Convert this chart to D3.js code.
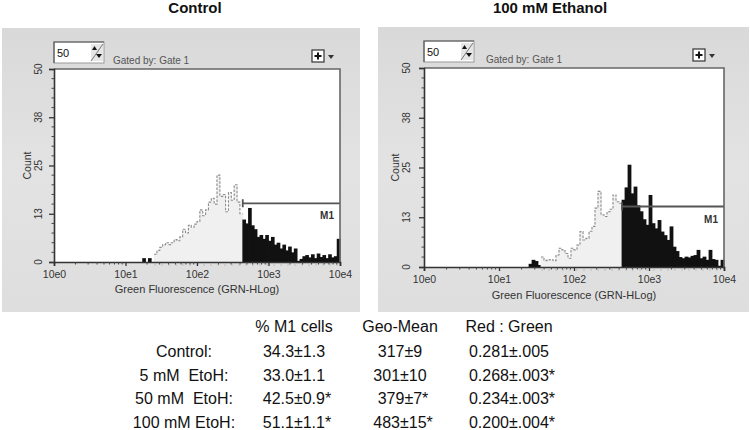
<!DOCTYPE html>
<html><head><meta charset="utf-8">
<script src="https://cdn.jsdelivr.net/npm/d3@7"></script>
<style>body{margin:0;background:#fff}text{font-family:Arial,"Liberation Sans",sans-serif}</style>
</head><body>
<svg id="c" width="750" height="430"></svg>
<script>
// ---------- data ----------
const panelTitles = ["Control", "100 mM Ethanol"];
const binStartLog = 1.20;          // log10 of first bin edge
const binWidthLog = 0.04;          // bin width in decades
const controlCounts = [0,1,0,1,0,
  2.0,3.0,3.8,4.5,5.0,4.5,5.0,5.8,5.5,6.5,8.5,7.5,9.5,9.0,9.8,10.5,13.5,12.0,13.5,15.5,16.5,15.0,22.5,17.0,17.5,13.0,18.0,16.0,20.0,15.5,12.5,
  11.0,10.0,14.0,9.5,8.5,6.5,7.0,6.0,7.0,5.5,6.5,4.5,5.0,3.5,4.5,3.0,4.0,2.5,3.5,0.3,0.8,1.5,1.8,1.2,2.0,1.0,2.2,1.3,1.8,1.0,2.0,1.2,1.5,6.0];
const ethanolCounts = [0,0,0,0,0,
  0.8,1.8,1.5,0.5,2.5,1.6,1.8,1.9,1.6,3.0,4.7,4.3,3.4,2.2,4.7,4.3,5.5,8.9,6.8,7.2,9.0,10.2,14.8,19.0,13.1,12.7,13.9,14.5,18.1,16.4,16.0,
  16.9,20.0,25.7,18.5,20.2,15.5,14.0,12.0,10.6,18.1,11.0,9.7,11.8,8.9,8.0,6.8,10.2,5.1,4.0,2.5,2.2,2.6,2.4,2.8,3.0,4.3,2.2,2.6,1.8,4.3,2.0,1.8,0.3,1.8];
const grayFromLog = [1.40, 1.56];   // start of light-grey (non-M1) part
const m1StartLog = [2.64, 2.64];    // M1 gate start
const m1Level = [15.2, 15.2];       // M1 gate bar height (count)
const xTickValues = [1, 10, 100, 1000, 10000];
const xTickLabels = ["10e0", "10e1", "10e2", "10e3", "10e4"];
const yTickValues = [0, 12.5, 25, 37.5, 50];
const yTickLabels = ["0", "13", "25", "38", "50"];
const xAxisTitle = "Green Fluorescence (GRN-HLog)";
const yAxisTitle = "Count";
const tableHeaders = ["% M1 cells", "Geo-Mean", "Red : Green"];
const rowLabels = ["Control:", "5 mM\u00a0\u00a0EtoH:", "50 mM\u00a0\u00a0EtoH:", "100 mM EtoH:"];
const m1Cells = ["34.3±1.3", "33.0±1.1", "42.5±0.9*", "51.1±1.1*"];
const geoMean = ["317±9", "301±10", "379±7*", "483±15*"];
const redGreen = ["0.281±.005", "0.268±.003*", "0.234±.003*", "0.200±.004*"];

// ---------- layout ----------
const svg = d3.select("#c");
const layouts = [
  {bg:[2,28,358,284], plot:[54,69,340,262], titleX:195, yLab:38, yTitle:27, xTitleY:293},
  {bg:[378,27,371,285], plot:[424,68,724,267], titleX:550, yLab:406, yTitle:395, xTitleY:299}
];
const countsAll = [controlCounts, ethanolCounts];

const defs = svg.append("defs");
const grad = defs.append("linearGradient").attr("id","bgg").attr("x1",0).attr("y1",0).attr("x2",0).attr("y2",1);
grad.append("stop").attr("offset","0%").attr("stop-color","#d9d9d9");
grad.append("stop").attr("offset","50%").attr("stop-color","#e3e3e3");
grad.append("stop").attr("offset","100%").attr("stop-color","#dedede");

layouts.forEach((L, p) => {
  const g = svg.append("g");
  const [px0, py0, px1, py1] = L.plot;
  const counts = countsAll[p];
  g.append("rect").attr("x",L.bg[0]).attr("y",L.bg[1]).attr("width",L.bg[2]).attr("height",L.bg[3]).attr("fill","url(#bgg)");
  svg.append("text").attr("x",L.titleX).attr("y",13).attr("text-anchor","middle")
    .attr("font-size",15).attr("font-weight","bold").attr("fill","#111").text(panelTitles[p]);

  const x = d3.scaleLog().domain([1, 10000]).range([px0, px1]);
  const y = d3.scaleLinear().domain([0, 50]).range([py1, py0]);

  g.append("rect").attr("x",px0).attr("y",py0).attr("width",px1-px0).attr("height",py1-py0).attr("fill","#fff");

  // header widgets
  const bx = px0, by = py0 - 27;
  g.append("rect").attr("x",bx).attr("y",by).attr("width",50).attr("height",21).attr("fill","#fff").attr("stroke","#999").attr("stroke-width",1);
  g.append("path").attr("d",`M${bx},${by+21}V${by}H${bx+50}`).attr("stroke","#555").attr("fill","none").attr("stroke-width",1.2);
  g.append("text").attr("x",bx+3).attr("y",by+15).attr("font-size",11).attr("fill","#111").text("50");
  g.append("rect").attr("x",bx+37).attr("y",by+2).attr("width",12).attr("height",17).attr("fill","#e6e6e6");
  g.append("path").attr("d",`M${bx+37},${by+19}L${bx+49},${by+2}`).attr("stroke","#777").attr("stroke-width",1);
  g.append("path").attr("d",`M${bx+38},${by+8}l2.5,-4l2.5,4z M${bx+42},${by+12}h6l-3,4z`).attr("fill","#111");
  g.append("text").attr("x",bx+(p?62:59)).attr("y",by+22).attr("font-size",10).attr("fill","#555").text("Gated by: Gate 1");
  const pbx = px1 - (p?31:28), pby = py0 - 19;
  g.append("rect").attr("x",pbx).attr("y",pby).attr("width",12).attr("height",12).attr("fill","#fff").attr("stroke","#333").attr("stroke-width",1.2);
  g.append("path").attr("d",`M${pbx+6},${pby+2.5}v7M${pbx+2.5},${pby+6}h7`).attr("stroke","#111").attr("stroke-width",2);
  g.append("path").attr("d",`M${pbx+16},${pby+5}h6l-3,4z`).attr("fill","#333");

  // histogram bins
  const bins = counts.map((c, i) => ({lo: binStartLog + i*binWidthLog, hi: binStartLog + (i+1)*binWidthLog, c}));
  const isGray = b => b.lo >= grayFromLog[p] - 1e-9 && b.lo < m1StartLog[p] - 1e-9;
  g.selectAll("rect.bin").data(bins.filter(b => b.c > 0)).join("rect").attr("class","bin")
    .attr("x", b => x(Math.pow(10, b.lo)) - 0.4)
    .attr("width", b => x(Math.pow(10, b.hi)) - x(Math.pow(10, b.lo)) + 0.8)
    .attr("y", b => y(b.c)).attr("height", b => y(0) - y(b.c))
    .attr("fill", b => isGray(b) ? "#f0f0f0" : "#111");
  // grey outline (dotted step)
  const grayBins = bins.filter(isGray);
  const pts = [];
  grayBins.forEach(b => { pts.push([x(Math.pow(10,b.lo)), y(b.c)]); pts.push([x(Math.pow(10,b.hi)), y(b.c)]); });
  g.append("path").attr("d", d3.line()(pts)).attr("fill","none").attr("stroke","#8c8c8c").attr("stroke-width",1.1).attr("stroke-dasharray","2.5,1.5");
  // dotted row under grey part
  g.append("line").attr("x1", x(Math.pow(10, grayFromLog[p]))).attr("x2", px1).attr("y1", py1+3).attr("y2", py1+3)
    .attr("stroke","#bbb").attr("stroke-width",1.2).attr("stroke-dasharray","2,5");

  // M1 gate
  const gx0 = x(Math.pow(10, m1StartLog[p])), gx1 = px1, gy = y(m1Level[p]);
  g.append("path").attr("d",`M${gx0},${gy}H${gx1}M${gx0},${gy-4}v8`).attr("stroke","#555").attr("stroke-width",1.8).attr("fill","none");
  g.append("text").attr("x",gx1-6).attr("y",gy+16).attr("text-anchor","end").attr("font-size",10).attr("font-weight","bold").attr("fill","#333").text("M1");

  // frame top/right
  g.append("path").attr("d",`M${px0},${py0}H${px1}V${py1}`).attr("stroke","#666").attr("stroke-width",1.6).attr("fill","none");

  // x axis
  const xa = g.append("g").attr("transform",`translate(0,${py1})`)
    .call(d3.axisBottom(x).tickValues(xTickValues).tickFormat((d,i)=>xTickLabels[i]).tickSize(4).tickPadding(5));
  xa.select(".domain").attr("stroke","#333").attr("stroke-width",1.6);
  xa.selectAll(".tick line").attr("stroke","#333").attr("stroke-width",1.3);
  xa.selectAll(".tick text").attr("font-size",10.5).attr("fill","#333").attr("font-family","Arial");
  const minor = [];
  for (let dcd = 0; dcd < 4; dcd++) for (let m = 2; m <= 9; m++) minor.push(m * Math.pow(10, dcd));
  g.selectAll("line.mx").data(minor).join("line").attr("x1", d=>x(d)).attr("x2", d=>x(d))
    .attr("y1", py1).attr("y2", py1+2.5).attr("stroke","#444").attr("stroke-width",1);
  g.append("text").attr("x",(px0+px1)/2).attr("y",L.xTitleY).attr("text-anchor","middle").attr("font-size",11).attr("fill","#333").text(xAxisTitle);

  // y axis
  const ya = g.append("g").attr("transform",`translate(${px0},0)`)
    .call(d3.axisLeft(y).tickValues(yTickValues).tickFormat("").tickSize(5));
  ya.select(".domain").attr("stroke","#333").attr("stroke-width",1.6);
  ya.selectAll(".tick line").attr("stroke","#333").attr("stroke-width",1.3);
  const yminor = d3.range(2.5, 50, 2.5).filter(v => yTickValues.indexOf(v) < 0);
  g.selectAll("line.my").data(yminor).join("line").attr("x1",px0-2.5).attr("x2",px0)
    .attr("y1", d=>y(d)).attr("y2", d=>y(d)).attr("stroke","#444").attr("stroke-width",1);
  g.selectAll("text.yl").data(yTickValues).join("text").attr("class","yl")
    .attr("transform", (d,i)=>`translate(${L.yLab + 4},${y(d)}) rotate(-90)`)
    .attr("text-anchor","middle").attr("font-size",10).attr("fill","#333").text((d,i)=>yTickLabels[i]);
  g.append("text").attr("transform",`translate(${L.yTitle + 4},${y(25)}) rotate(-90)`)
    .attr("text-anchor","middle").attr("font-size",10.5).attr("fill","#333").text(yAxisTitle);
});

// ---------- table ----------
const colX = [294, 400, 509];
const headY = 332, rowY = [357, 381, 404, 428];
const tg = svg.append("g").attr("font-size",16).attr("fill","#111");
tableHeaders.forEach((h,i) => tg.append("text").attr("x",colX[i]).attr("y",headY).attr("text-anchor","middle").text(h));
const cols = [m1Cells, geoMean, redGreen];
rowLabels.forEach((r,i) => {
  tg.append("text").attr("x",184).attr("y",rowY[i]).attr("text-anchor","middle").text(r);
  cols.forEach((col,j) => tg.append("text").attr("x",colX[j] + (col[i].endsWith("*")?3:0)).attr("y",rowY[i]).attr("text-anchor","middle").text(col[i]));
});
</script>
</body></html>
